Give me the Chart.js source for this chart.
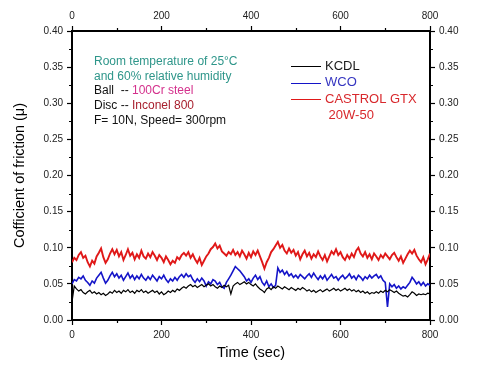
<!DOCTYPE html>
<html>
<head>
<meta charset="utf-8">
<script src="https://cdn.jsdelivr.net/npm/chart.js@4"></script>
<style>
    html, body { margin: 0; padding: 0; background: #fff; }
    #wrap { width: 480px; height: 368px; position: relative; }
</style>
</head>
<body>
<div id="wrap"><canvas id="frictionChart"></canvas></div>
<script>
// sample times (sec)
const timeSec = [
    0, 5, 10, 15, 20, 25, 30, 35, 40, 45,
    50, 55, 60, 65, 70, 75, 80, 85, 90, 95,
    100, 105, 110, 115, 120, 125, 130, 135, 140, 145,
    150, 155, 160, 165, 170, 175, 180, 185, 190, 195,
    200, 205, 210, 215, 220, 225, 230, 235, 240, 245,
    250, 255, 260, 265, 270, 275, 280, 285, 290, 295,
    300, 305, 310, 315, 320, 325, 330, 335, 340, 345,
    350, 355, 360, 365, 370, 375, 380, 385, 390, 395,
    400, 405, 410, 415, 420, 425, 430, 435, 440, 445,
    450, 455, 460, 465, 470, 475, 480, 485, 490, 495,
    500, 505, 510, 515, 520, 525, 530, 535, 540, 545,
    550, 555, 560, 565, 570, 575, 580, 585, 590, 595,
    600, 605, 610, 615, 620, 625, 630, 635, 640, 645,
    650, 655, 660, 665, 670, 675, 680, 685, 690, 695,
    700, 705, 710, 715, 720, 725, 730, 735, 740, 745,
    750, 755, 760, 765, 770, 775, 780, 785, 790, 795,
    800
];

const kcdl = [
    0.025, 0.047, 0.043, 0.040, 0.042, 0.038, 0.036, 0.039, 0.041, 0.037,
    0.039, 0.036, 0.038, 0.035, 0.037, 0.034, 0.036, 0.039, 0.037, 0.041,
    0.038, 0.040, 0.037, 0.041, 0.039, 0.042, 0.038, 0.040, 0.037, 0.041,
    0.039, 0.042, 0.038, 0.040, 0.037, 0.039, 0.041, 0.038, 0.040, 0.036,
    0.039, 0.035, 0.037, 0.040, 0.038, 0.041, 0.039, 0.043, 0.041, 0.044,
    0.046, 0.044, 0.047, 0.049, 0.046, 0.048, 0.045, 0.047, 0.049, 0.046,
    0.048, 0.050, 0.047, 0.049, 0.046, 0.044, 0.047, 0.045, 0.048, 0.046,
    0.048, 0.036, 0.047, 0.050, 0.052, 0.049, 0.051, 0.053, 0.050, 0.052,
    0.049, 0.047, 0.050, 0.046, 0.043, 0.041, 0.038, 0.043, 0.045, 0.042,
    0.046, 0.044, 0.047, 0.045, 0.043, 0.046, 0.044, 0.042, 0.045, 0.043,
    0.041, 0.044, 0.042, 0.045, 0.043, 0.040, 0.042, 0.039, 0.041, 0.038,
    0.040, 0.042, 0.039, 0.041, 0.043, 0.040, 0.042, 0.044, 0.041, 0.043,
    0.040, 0.042, 0.044, 0.041, 0.043, 0.040, 0.042, 0.039, 0.041, 0.038,
    0.040, 0.037, 0.039, 0.036, 0.038, 0.037, 0.039, 0.037, 0.040, 0.038,
    0.041, 0.039, 0.042, 0.040, 0.038, 0.040, 0.037, 0.035, 0.033, 0.034,
    0.032, 0.035, 0.039, 0.037, 0.034, 0.036, 0.035, 0.036, 0.035, 0.037,
    0.036
];

const wco = [
    0.050, 0.056, 0.054, 0.059, 0.057, 0.061, 0.055, 0.052, 0.048, 0.054,
    0.051, 0.058, 0.062, 0.066, 0.058, 0.051, 0.055, 0.061, 0.066, 0.060,
    0.064, 0.058, 0.062, 0.055, 0.060, 0.065, 0.058, 0.062, 0.056, 0.061,
    0.057, 0.063, 0.058, 0.055, 0.060, 0.056, 0.062, 0.058, 0.054, 0.060,
    0.057, 0.062, 0.056, 0.052, 0.057, 0.054, 0.059, 0.055, 0.060, 0.063,
    0.059, 0.064, 0.060, 0.062, 0.056, 0.052, 0.057, 0.053, 0.058, 0.054,
    0.047, 0.053, 0.050, 0.056, 0.054, 0.049, 0.052, 0.046, 0.044, 0.052,
    0.057, 0.062, 0.068, 0.074, 0.071, 0.068, 0.064, 0.060, 0.054, 0.057,
    0.052, 0.058, 0.062, 0.056, 0.060, 0.052, 0.048, 0.054, 0.046, 0.050,
    0.045, 0.048, 0.072, 0.066, 0.069, 0.063, 0.067, 0.061, 0.064, 0.059,
    0.062, 0.058, 0.063, 0.060, 0.057, 0.061, 0.064, 0.059, 0.065, 0.060,
    0.056, 0.061, 0.057, 0.062, 0.055, 0.059, 0.063, 0.058, 0.060, 0.055,
    0.059, 0.062, 0.057, 0.060, 0.064, 0.058, 0.061, 0.056, 0.062, 0.059,
    0.055, 0.060, 0.057, 0.062, 0.058, 0.061, 0.063, 0.058, 0.061, 0.055,
    0.052, 0.018, 0.050, 0.046, 0.049, 0.044, 0.047, 0.043, 0.046, 0.044,
    0.048, 0.052, 0.059, 0.055, 0.050, 0.053, 0.048, 0.052, 0.047, 0.050,
    0.048
];

const castrol = [
    0.080, 0.086, 0.083, 0.090, 0.094, 0.086, 0.089, 0.080, 0.074, 0.082,
    0.078, 0.088, 0.093, 0.099, 0.087, 0.079, 0.084, 0.092, 0.098, 0.091,
    0.097, 0.088, 0.094, 0.083, 0.090, 0.098, 0.089, 0.093, 0.084, 0.091,
    0.086, 0.096, 0.088, 0.085, 0.092, 0.087, 0.094, 0.089, 0.083, 0.090,
    0.086, 0.080, 0.088, 0.083, 0.077, 0.082, 0.079, 0.087, 0.084, 0.090,
    0.093, 0.089, 0.094, 0.086, 0.091, 0.084, 0.079, 0.086, 0.076, 0.082,
    0.088, 0.092, 0.098, 0.101, 0.106, 0.099, 0.103, 0.095, 0.092, 0.089,
    0.094, 0.091, 0.097, 0.090, 0.094, 0.088, 0.096, 0.091, 0.085, 0.093,
    0.087, 0.095, 0.090, 0.096, 0.088, 0.080, 0.071, 0.080, 0.086, 0.094,
    0.098, 0.103, 0.108, 0.100, 0.104, 0.096, 0.092, 0.099, 0.093, 0.097,
    0.089, 0.094, 0.084, 0.091, 0.096, 0.088, 0.093, 0.085, 0.091, 0.087,
    0.095, 0.088, 0.083, 0.090, 0.081, 0.088, 0.095, 0.091, 0.098, 0.090,
    0.094, 0.087, 0.083, 0.090, 0.085, 0.092, 0.087, 0.096, 0.100, 0.092,
    0.088, 0.094, 0.086, 0.091, 0.084, 0.092, 0.088, 0.083, 0.090, 0.086,
    0.092, 0.088, 0.084, 0.090, 0.093, 0.087, 0.082, 0.088, 0.079, 0.085,
    0.091, 0.096, 0.092, 0.097, 0.089, 0.084, 0.080, 0.087, 0.077, 0.084,
    0.092
];

const seriesNames = ['KCDL', 'WCO', 'CASTROL GTX\n 20W-50'];
const seriesColors = ['#000000', '#1414c8', '#e01818'];
const seriesWidths = [1.2, 1.6, 1.9];
const legendTextColors = ['#1a1a1a', '#3535c0', '#d8282c'];

const xMajorTicks = [0, 200, 400, 600, 800];
const xMinorTicks = [100, 300, 500, 700];
const yMinorTicks = [0.025, 0.075, 0.125, 0.175, 0.225, 0.275, 0.325, 0.375];

const noteLines = [
    [['Room temperature of 25°C', '#2e968a']],
    [['and 60% relative humidity', '#2e968a']],
    [['Ball  -- ', '#111111'], ['100Cr steel', '#d4308c']],
    [['Disc -- ', '#111111'], ['Inconel 800', '#a8202e']],
    [['F= 10N, Speed= 300rpm', '#111111']]
];

const FONT = 'Arial, "Liberation Sans", sans-serif';

const minorTicksPlugin = {
    id: 'minorTicks',
    afterDraw(chart) {
        const ctx = chart.ctx;
        const area = chart.chartArea;
        const sx = chart.scales.x;
        const sy = chart.scales.y;
        ctx.save();
        ctx.strokeStyle = '#000';
        ctx.lineWidth = 1.2;
        ctx.beginPath();
        xMinorTicks.forEach(v => {
            const px = Math.round(sx.getPixelForValue(v)) + 0.5;
            ctx.moveTo(px, area.bottom);
            ctx.lineTo(px, area.bottom + 3);
            ctx.moveTo(px, area.top);
            ctx.lineTo(px, area.top - 3);
        });
        yMinorTicks.forEach(v => {
            const py = Math.round(sy.getPixelForValue(v)) + 0.5;
            ctx.moveTo(area.left, py);
            ctx.lineTo(area.left - 3, py);
            ctx.moveTo(area.right, py);
            ctx.lineTo(area.right + 3, py);
        });
        ctx.stroke();
        ctx.restore();
    }
};

const notesPlugin = {
    id: 'notes',
    afterDraw(chart) {
        const ctx = chart.ctx;
        ctx.save();
        ctx.font = '12px ' + FONT;
        ctx.textBaseline = 'middle';
        ctx.textAlign = 'left';
        const rowY = [62, 77, 91, 106, 121];
        noteLines.forEach((segs, i) => {
            let x = 94;
            segs.forEach(([text, color]) => {
                ctx.fillStyle = color;
                ctx.fillText(text, x, rowY[i]);
                x += ctx.measureText(text).width;
            });
        });

        // legend
        ctx.font = '13px ' + FONT;
        let y = 66;
        chart.data.datasets.forEach((ds, i) => {
            ctx.strokeStyle = ds.borderColor;
            ctx.lineWidth = 1;
            ctx.beginPath();
            ctx.moveTo(291, Math.round(y) + 0.5);
            ctx.lineTo(321, Math.round(y) + 0.5);
            ctx.stroke();
            ctx.fillStyle = legendTextColors[i];
            ds.label.split('\n').forEach(line => {
                ctx.fillText(line, 325, y);
                y += 16.5;
            });
        });
        ctx.restore();
    }
};

function renderChart() {
    const ctx = document.getElementById('frictionChart').getContext('2d');
    const tickFont = { family: FONT, size: 10 };
    const gridOpts = { drawOnChartArea: false, drawTicks: true, tickLength: 5, color: '#000', tickWidth: 1.2 };
    const borderOpts = { display: true, color: '#000', width: 2 };

    new Chart(ctx, {
        type: 'line',
        data: {
            labels: timeSec,
            datasets: [kcdl, wco, castrol].map((vals, i) => ({
                label: seriesNames[i],
                data: vals,
                borderColor: seriesColors[i],
                borderWidth: seriesWidths[i],
                pointRadius: 0,
                tension: 0,
                fill: false
            }))
        },
        options: {
            responsive: true,
            maintainAspectRatio: false,
            animation: false,
            devicePixelRatio: 1,
            layout: { padding: 0 },
            plugins: {
                legend: { display: false },
                tooltip: { enabled: false }
            },
            scales: {
                x: {
                    type: 'linear',
                    position: 'bottom',
                    min: 0,
                    max: 800,
                    afterBuildTicks: s => { s.ticks = xMajorTicks.map(v => ({ value: v })); },
                    ticks: { font: tickFont, color: '#222', padding: 4, maxRotation: 0 },
                    grid: gridOpts,
                    border: borderOpts,
                    title: {
                        display: true,
                        text: 'Time (sec)',
                        color: '#000',
                        font: { family: FONT, size: 14.5 },
                        padding: { top: 0, bottom: 6 }
                    },
                    afterFit: s => { s.height = 48; }
                },
                x2: {
                    type: 'linear',
                    position: 'top',
                    min: 0,
                    max: 800,
                    afterBuildTicks: s => { s.ticks = xMajorTicks.map(v => ({ value: v })); },
                    ticks: { font: tickFont, color: '#222', padding: 4, maxRotation: 0 },
                    grid: gridOpts,
                    border: borderOpts,
                    afterFit: s => { s.height = 31; }
                },
                y: {
                    type: 'linear',
                    position: 'left',
                    min: 0,
                    max: 0.4,
                    ticks: {
                        stepSize: 0.05,
                        font: tickFont,
                        color: '#222',
                        padding: 4,
                        callback: v => v.toFixed(2)
                    },
                    grid: gridOpts,
                    border: borderOpts,
                    title: {
                        display: true,
                        text: 'Cofficient of friction (μ)',
                        color: '#000',
                        font: { family: FONT, size: 14.5 },
                        padding: { top: 11, bottom: 0 }
                    },
                    afterFit: s => { s.width = 72; }
                },
                y2: {
                    type: 'linear',
                    position: 'right',
                    min: 0,
                    max: 0.4,
                    ticks: {
                        stepSize: 0.05,
                        font: tickFont,
                        color: '#222',
                        padding: 4,
                        callback: v => v.toFixed(2)
                    },
                    grid: gridOpts,
                    border: borderOpts,
                    afterFit: s => { s.width = 50; }
                }
            }
        },
        plugins: [minorTicksPlugin, notesPlugin]
    });
}

renderChart();
</script>
</body>
</html>
